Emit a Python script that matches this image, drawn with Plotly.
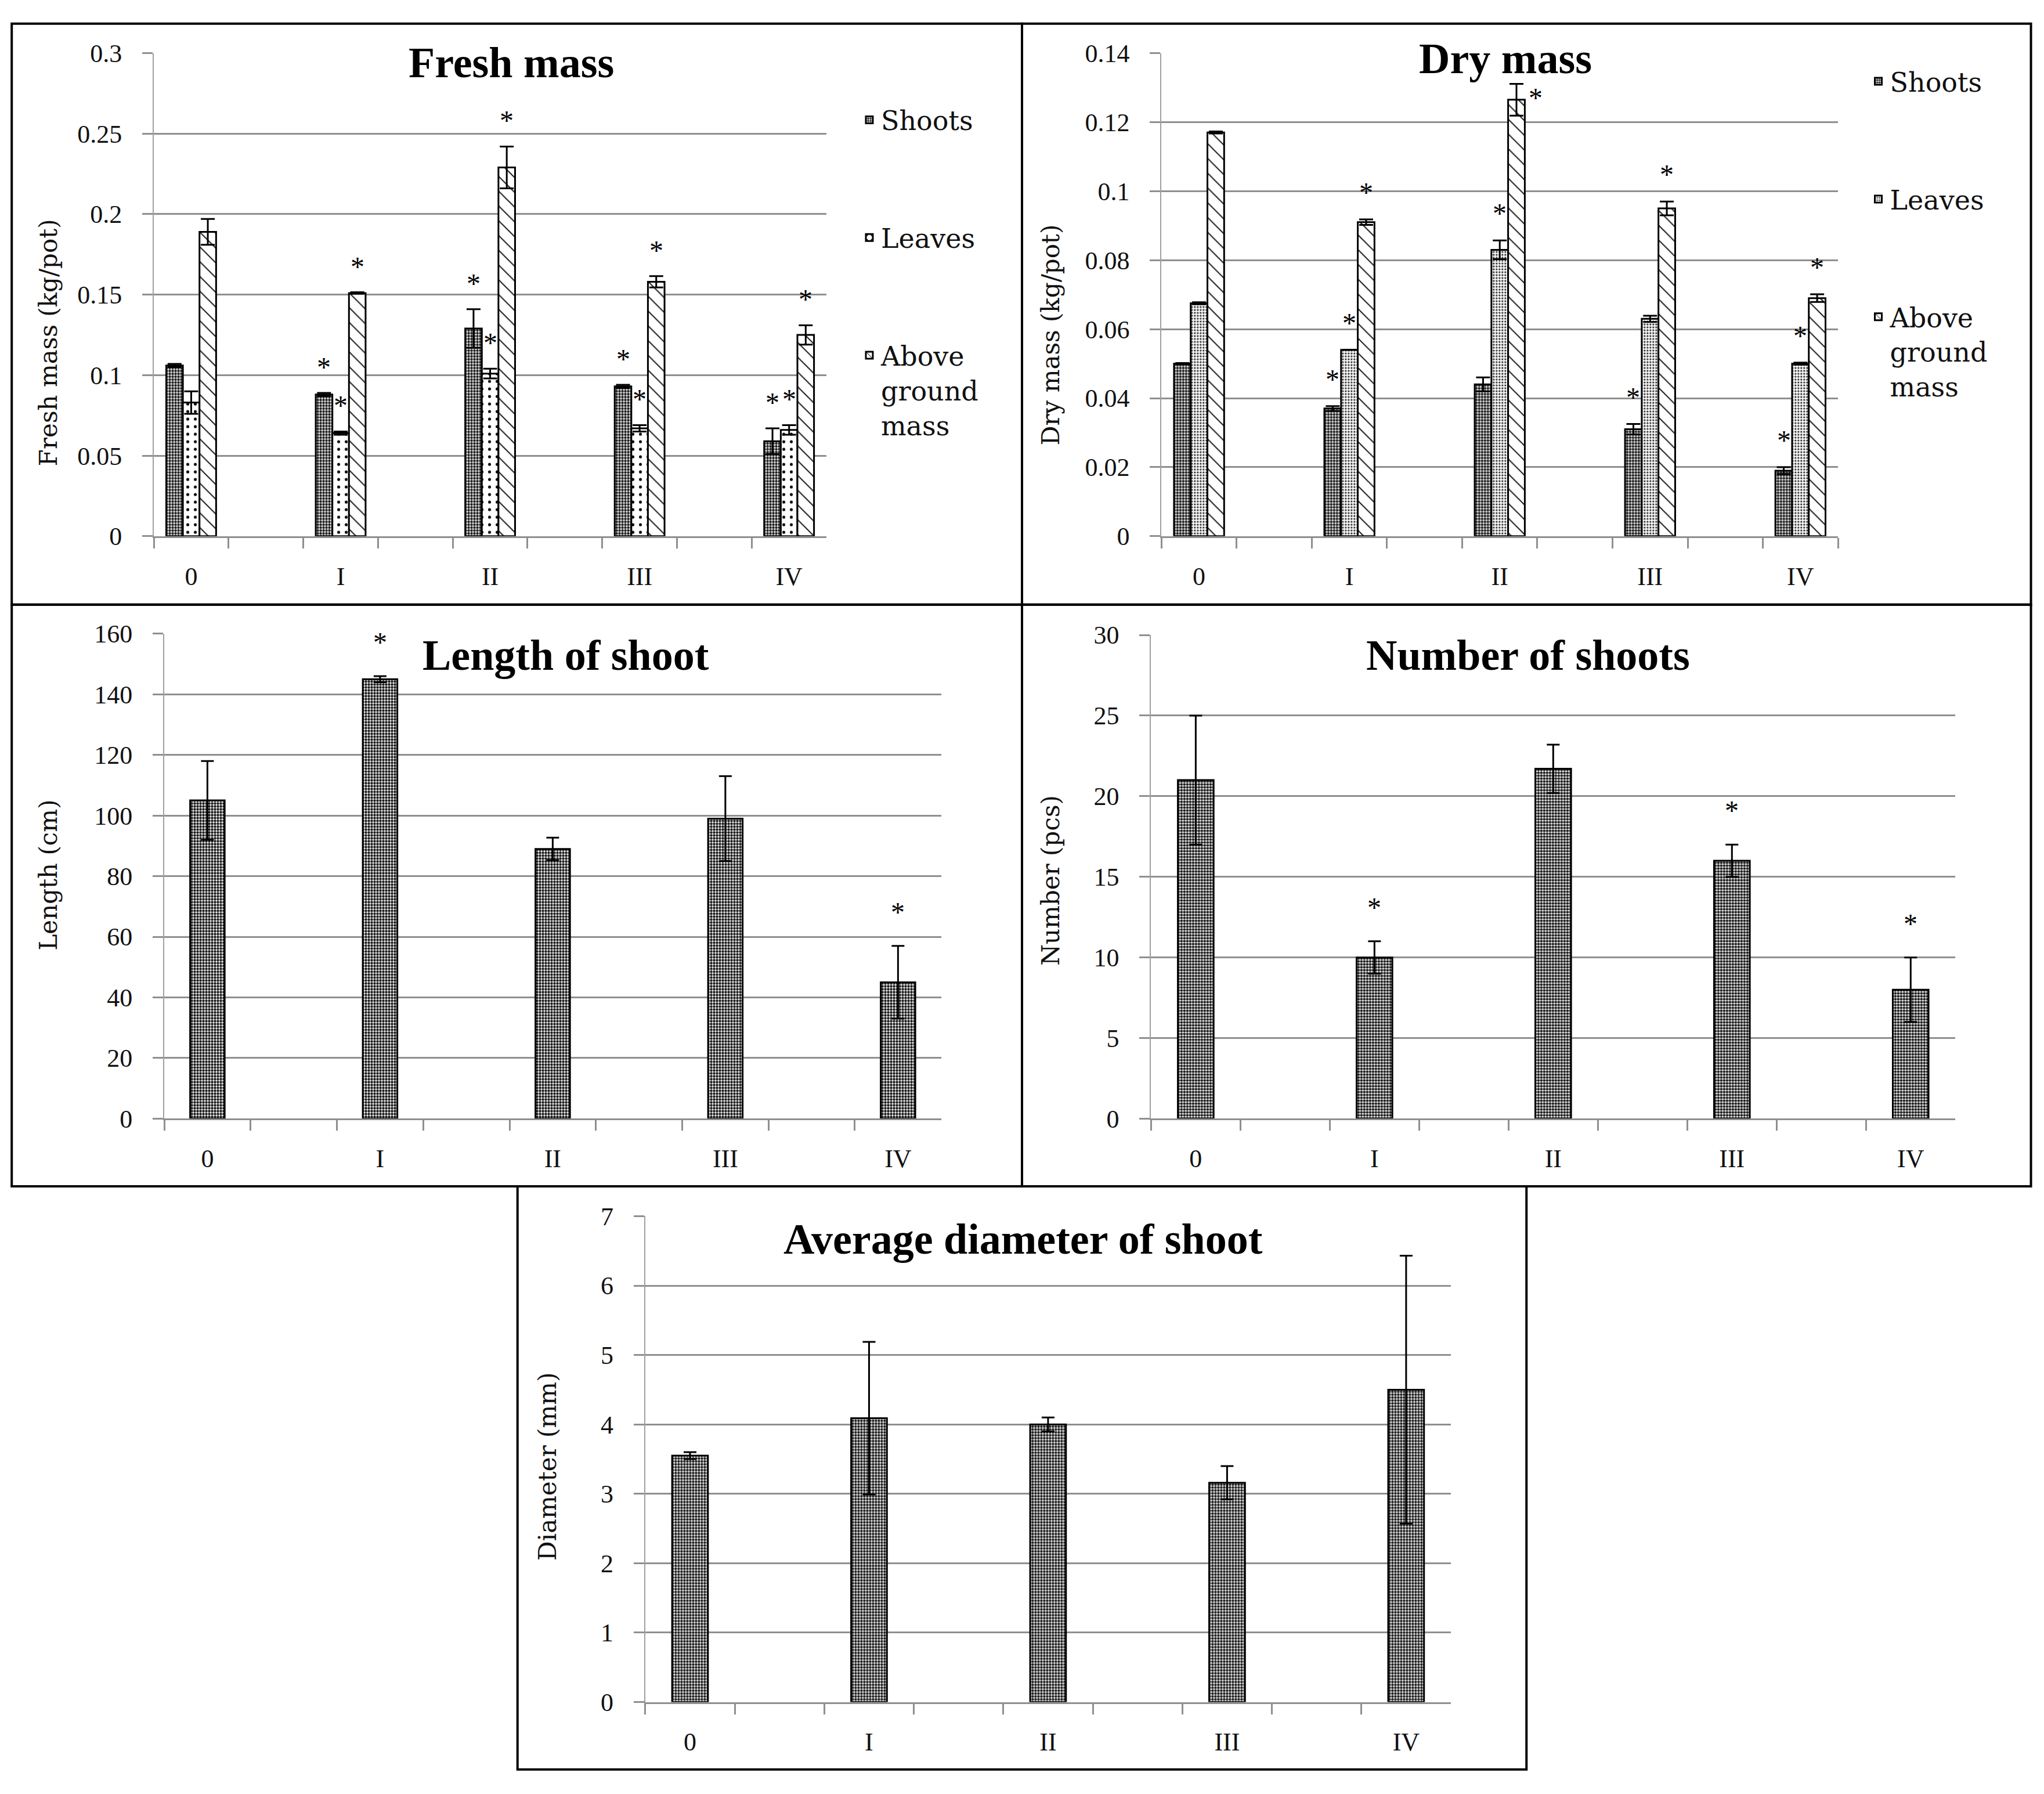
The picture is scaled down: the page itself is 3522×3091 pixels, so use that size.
import plotly.graph_objects as go

# ---------------- data ----------------
groups = ["0", "I", "II", "III", "IV"]
# category slots on the x axis (blank slots between the treatments)
slots = ["0", " ", "I", "  ", "II", "   ", "III", "    ", "IV"]

series_names = ["Shoots", "Leaves", "Above<br>ground<br>mass"]

fresh_shoots = [0.106, 0.088, 0.129, 0.093, 0.059]
fresh_shoots_err = [0.001, 0.001, 0.012, 0.001, 0.008]
fresh_leaves = [0.083, 0.064, 0.101, 0.067, 0.066]
fresh_leaves_err = [0.007, 0.001, 0.003, 0.002, 0.003]
fresh_above = [0.189, 0.151, 0.229, 0.158, 0.125]
fresh_above_err = [0.008, 0.0005, 0.013, 0.0035, 0.006]
fresh_sig_shoots = [0, 1, 1, 1, 1]
fresh_sig_leaves = [0, 1, 1, 1, 1]
fresh_sig_above = [0, 1, 1, 1, 1]

dry_shoots = [0.050, 0.037, 0.044, 0.031, 0.019]
dry_shoots_err = [0.0002, 0.0007, 0.002, 0.0015, 0.001]
dry_leaves = [0.0675, 0.054, 0.083, 0.063, 0.050]
dry_leaves_err = [0.0003, 0.0, 0.0027, 0.0009, 0.0003]
dry_above = [0.117, 0.091, 0.1265, 0.095, 0.069]
dry_above_err = [0.0003, 0.0008, 0.0046, 0.002, 0.0011]
dry_sig_shoots = [0, 1, 0, 1, 1]
dry_sig_leaves = [0, 1, 1, 0, 1]
dry_sig_above = [0, 1, 1, 1, 1]

length = [105, 145, 89, 99, 45]
length_err = [13, 1, 3.7, 14, 12]
length_sig = [0, 1, 0, 0, 1]

number = [21, 10, 21.7, 16, 8]
number_err = [4, 1, 1.5, 1, 2]
number_sig = [0, 1, 0, 1, 1]

diameter = [3.55, 4.09, 4.0, 3.16, 4.5]
diameter_err = [0.05, 1.1, 0.1, 0.24, 1.93]
diameter_sig = [0, 0, 0, 0, 0]

# ---------------- layout helpers ----------------
WIN_W, WIN_H = 3522, 3091
MARG = 8                      # default page margin around the plot div
W, H = WIN_W - 2 * MARG, WIN_H - 2 * MARG
RW, RH = 1568.0, 1376.0       # reference grid used for placing panels


def fx(v):
    return (v * WIN_W / RW - MARG) / W


def fy(v):
    return 1 - (v * WIN_H / RH - MARG) / H


TICK_FONT = dict(family="Liberation Serif", size=44, color="#111")
AXT_FONT = dict(family="DejaVu Serif", size=42, color="#111")
TTL_FONT = dict(family="Liberation Serif", size=74, color="#000")
STAR_FONT = dict(family="Liberation Serif", size=48, color="#000")
GRID = "#8f8f8f"

shoot_pat = dict(shape=".", size=5, solidity=0.62, fgcolor="#1a1a1a", bgcolor="#ffffff", fillmode="replace")
leaf_pat_fresh = dict(shape=".", size=13, solidity=0.12, fgcolor="#000000", bgcolor="#ffffff", fillmode="replace")
leaf_pat_dry = dict(shape=".", size=5, solidity=0.35, fgcolor="#333333", bgcolor="#ffffff", fillmode="replace")
above_pat = dict(shape="\\", size=18, solidity=0.12, fgcolor="#222222", bgcolor="#ffffff", fillmode="replace")

panels = [
    dict(n="", xd=(118, 634), yd=(407, 30.5), ymax=0.3, dtick=0.05, title="Fresh mass", tpos=(392, 38),
         ytitle="Fresh mass (kg/pot)", ytpos=(37, 256), star_shift=16),
    dict(n="2", xd=(891, 1410), yd=(407, 30.5), ymax=0.14, dtick=0.02, title="Dry mass", tpos=(1155, 35),
         ytitle="Dry mass (kg/pot)", ytpos=(806, 250), star_shift=18),
    dict(n="3", xd=(126, 722), yd=(861, 483), ymax=160, dtick=20, title="Length of shoot", tpos=(434, 500),
         ytitle="Length (cm)", ytpos=(37, 671), star_shift=30),
    dict(n="4", xd=(883, 1500), yd=(861, 484), ymax=30, dtick=5, title="Number of shoots", tpos=(1172, 500),
         ytitle="Number (pcs)", ytpos=(806, 675), star_shift=30),
    dict(n="5", xd=(495, 1113), yd=(1315.7, 937), ymax=7, dtick=1, title="Average diameter of shoot",
         tpos=(785, 955), ytitle="Diameter (mm)", ytpos=(420, 1132), star_shift=30),
]

fig = go.Figure()
layout = dict(
    width=W, height=H, margin=dict(l=0, r=0, t=0, b=0, pad=0),
    paper_bgcolor="white", plot_bgcolor="white",
    barmode="group", bargap=1 / 3, bargroupgap=0,
    showlegend=True,
)
annotations = []
shapes = []

for p in panels:
    n = p["n"]
    layout["xaxis" + n] = dict(
        domain=[fx(p["xd"][0]), fx(p["xd"][1])], anchor="y" + n,
        type="category", categoryorder="array", categoryarray=slots, range=[-0.5, 8.5],
        tickson="boundaries", ticks="outside", ticklen=18, tickwidth=3, tickcolor=GRID,
        showline=True, linecolor=GRID, linewidth=3, showgrid=False, zeroline=False,
        tickfont=TICK_FONT, ticklabelstandoff=28, fixedrange=True,
    )
    layout["yaxis" + n] = dict(
        domain=[fy(p["yd"][0]), fy(p["yd"][1])], anchor="x" + n,
        range=[0, p["ymax"]], dtick=p["dtick"], tick0=0,
        ticks="outside", ticklen=18, tickwidth=3, tickcolor=GRID,
        showline=True, linecolor="#a0a0a0", linewidth=2,
        showgrid=True, gridcolor=GRID, gridwidth=3, zeroline=False,
        tickfont=TICK_FONT, ticklabelstandoff=26, fixedrange=True,
    )
    annotations.append(dict(text="<b>%s</b>" % p["title"], x=fx(p["tpos"][0]), y=fy(p["tpos"][1]),
                            xref="paper", yref="paper", xanchor="center", yanchor="middle",
                            showarrow=False, font=TTL_FONT))
    annotations.append(dict(text=p["ytitle"], x=fx(p["ytpos"][0]), y=fy(p["ytpos"][1]),
                            xref="paper", yref="paper", xanchor="center", yanchor="middle",
                            textangle=-90, showarrow=False, font=AXT_FONT))


def cat_px(p):
    return (fx(p["xd"][1]) - fx(p["xd"][0])) * W / 9.0


def add_stars(p, vals, errs, sig, offset_px, bar_px):
    n = p["n"]
    for g, v, e, s in zip(groups, vals, errs, sig):
        if not s:
            continue
        top = v + e
        if top > 0.93 * p["ymax"]:
            annotations.append(dict(text="*", x=g, y=top, xref="x" + n, yref="y" + n,
                                    xanchor="center", yanchor="top", xshift=offset_px + bar_px * 1.15,
                                    yshift=4, showarrow=False, font=STAR_FONT))
        else:
            annotations.append(dict(text="*", x=g, y=top, xref="x" + n, yref="y" + n,
                                    xanchor="center", yanchor="bottom", xshift=offset_px,
                                    yshift=p["star_shift"], showarrow=False, font=STAR_FONT))


def err(arr, w):
    return dict(type="data", array=arr, visible=True, color="#000", thickness=3, width=w)


# grouped panels
grouped = [
    (panels[0], "legend",
     [(fresh_shoots, fresh_shoots_err, fresh_sig_shoots, shoot_pat),
      (fresh_leaves, fresh_leaves_err, fresh_sig_leaves, leaf_pat_fresh),
      (fresh_above, fresh_above_err, fresh_sig_above, above_pat)]),
    (panels[1], "legend2",
     [(dry_shoots, dry_shoots_err, dry_sig_shoots, shoot_pat),
      (dry_leaves, dry_leaves_err, dry_sig_leaves, leaf_pat_dry),
      (dry_above, dry_above_err, dry_sig_above, above_pat)]),
]
for p, leg, sers in grouped:
    n = p["n"]
    bar_px = cat_px(p) * (2 / 3) / 3
    for i, (vals, errs, sig, pat) in enumerate(sers):
        fig.add_trace(go.Bar(
            x=groups, y=vals, error_y=err(errs, 12), name=series_names[i],
            marker=dict(pattern=pat, line=dict(color="#000", width=3)),
            xaxis="x" + n, yaxis="y" + n, legend=leg, legendgroup=leg + str(i),
            showlegend=True,
        ))
        add_stars(p, vals, errs, sig, (i - 1) * bar_px, bar_px)

# single-series panels
singles = [(panels[2], length, length_err, length_sig),
           (panels[3], number, number_err, number_sig),
           (panels[4], diameter, diameter_err, diameter_sig)]
for p, vals, errs, sig in singles:
    n = p["n"]
    fig.add_trace(go.Bar(
        x=groups, y=vals, error_y=err(errs, 11), width=0.4, name="",
        marker=dict(pattern=shoot_pat, line=dict(color="#000", width=3)),
        xaxis="x" + n, yaxis="y" + n, showlegend=False,
    ))
    add_stars(p, vals, errs, sig, 0, cat_px(p) * 0.4)

LEG_FONT = dict(family="DejaVu Serif", size=46, color="#111")
layout["legend"] = dict(x=fx(658), y=fy(66), xanchor="left", yanchor="top", font=LEG_FONT,
                        tracegroupgap=140, valign="top", bgcolor="rgba(0,0,0,0)", itemwidth=30)
layout["legend2"] = dict(x=fx(1432), y=fy(36), xanchor="left", yanchor="top", font=LEG_FONT,
                         tracegroupgap=140, valign="top", bgcolor="rgba(0,0,0,0)", itemwidth=30)

# panel frames
boxes = [(9, 7.5, 784, 460.4), (784, 7.5, 1558, 460.4), (9, 460.4, 784, 913.7), (784, 460.4, 1558, 913.7),
         (397, 913.7, 1171, 1368.2)]
for x0, y0, x1, y1 in boxes:
    shapes.append(dict(type="rect", xref="paper", yref="paper", x0=fx(x0), x1=fx(x1), y0=fy(y1), y1=fy(y0),
                       line=dict(color="#000", width=4), fillcolor="rgba(0,0,0,0)", layer="above"))

layout["annotations"] = annotations
layout["shapes"] = shapes
fig.update_layout(**layout)
fig.write_html("out.html")
